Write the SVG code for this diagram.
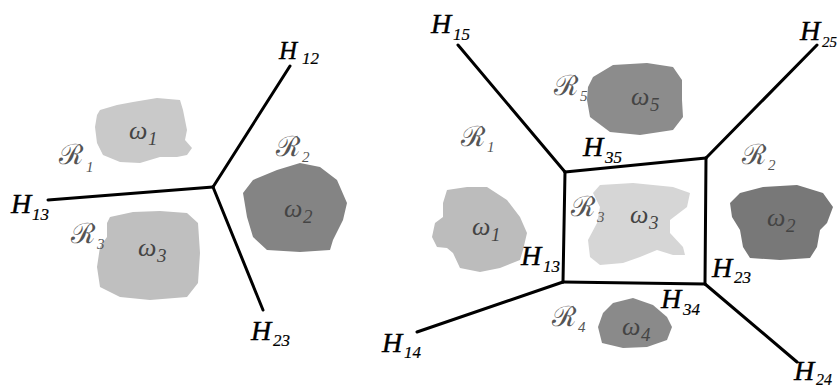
<svg xmlns="http://www.w3.org/2000/svg" width="839" height="387" viewBox="0 0 839 387">
<style>
.bg{fill:#ffffff}
.ln{stroke:#000;stroke-width:3;fill:none;stroke-linecap:round;stroke-linejoin:miter}
.H{font-family:"Liberation Serif","DejaVu Serif",serif;font-style:italic;font-size:28px;fill:#000;stroke:#000;stroke-width:0.4}
.Hs{font-size:17px;stroke-width:0.2}
.R{font-family:"DejaVu Serif","Liberation Serif",serif;font-size:28px;fill:#555}
.Rs{font-family:"Liberation Serif",serif;font-style:italic;font-size:15px}
.w{font-family:"Liberation Serif","DejaVu Serif",serif;font-style:italic;font-size:26px;fill:#444}
.ws{font-size:19px}
</style>
<rect class="bg" x="0" y="0" width="839" height="387"/>

<!-- Left diagram -->
<g id="blob-l-w1"><path fill="#c9c9c9" d="M100,110 L117,105 L133,102 L157,98 L180,100 L183,110 L187,130 L185,140 L192,148 L187,155 L177,157 L160,157 L140,163 L120,162 L103,155 L97,143 L95,127 L97,115 Z"/></g>
<g id="blob-l-w2"><path fill="#848484" d="M277,170 L300,163 L320,167 L337,180 L347,203 L343,220 L333,240 L330,250 L300,252 L267,250 L253,237 L247,217 L243,193 L253,180 Z"/></g>
<g id="blob-l-w3"><path fill="#bfbfbf" d="M110,217 L133,212 L160,211 L187,213 L198,223 L200,253 L198,283 L187,297 L150,300 L120,297 L100,287 L97,267 L100,247 L107,237 L107,223 Z"/></g>

<g id="connectors-left">
<path class="ln" d="M290,66 L213,187"/>
<path class="ln" d="M48,200 L213,187"/>
<path class="ln" d="M213,187 L263,310"/>
</g>

<g id="labels-left">
<text class="H" x="279" y="59" style="font-size:25px">H<tspan class="Hs" x="302" y="64">12</tspan></text>
<text class="H" x="11" y="213">H<tspan class="Hs" x="32" y="220">13</tspan></text>
<text class="H" x="251" y="340">H<tspan class="Hs" x="273" y="346">23</tspan></text>
<text class="R" x="59" y="164">ℛ<tspan class="Rs" x="86" y="172">1</tspan></text>
<text class="R" x="276" y="156">ℛ<tspan class="Rs" x="302" y="162">2</tspan></text>
<text class="R" x="71" y="243">ℛ<tspan class="Rs" x="97" y="249">3</tspan></text>
<text class="w" x="129" y="139">ω<tspan class="ws" x="148" y="145">1</tspan></text>
<text class="w" x="284" y="217">ω<tspan class="ws" x="303" y="223">2</tspan></text>
<text class="w" x="138" y="256">ω<tspan class="ws" x="157" y="262">3</tspan></text>
</g>

<!-- Right diagram -->
<g id="blob-r-w5"><path fill="#8c8c8c" d="M593,77 L613,65 L647,63 L673,67 L682,80 L682,100 L683,117 L673,130 L640,135 L610,132 L590,117 L587,100 L588,87 Z"/></g>
<g id="blob-r-w1"><path fill="#bcbcbc" d="M447,190 L467,187 L487,187 L507,200 L520,217 L527,233 L523,250 L520,260 L500,268 L480,272 L460,268 L453,253 L447,248 L437,247 L432,237 L435,223 L443,217 L443,203 Z"/></g>
<g id="blob-r-w3"><path fill="#d6d6d6" d="M600,185 L633,183 L673,187 L690,193 L687,207 L670,220 L670,233 L683,247 L685,255 L673,255 L657,250 L640,257 L623,263 L600,265 L590,257 L588,240 L597,223 L600,207 L593,193 Z"/></g>
<g id="blob-r-w2"><path fill="#787878" d="M740,193 L763,187 L797,185 L823,193 L833,207 L827,223 L820,230 L817,247 L810,258 L780,260 L750,258 L743,247 L740,230 L732,217 L730,203 Z"/></g>
<g id="blob-r-w4"><path fill="#8a8a8a" d="M613,303 L633,298 L653,305 L667,317 L672,327 L667,340 L647,347 L623,348 L602,343 L598,327 L603,313 Z"/></g>

<g id="connectors-right">
<path class="ln" d="M458,45 L565,172"/>
<path class="ln" d="M565,172 L706,158"/>
<path class="ln" d="M706,158 L817,45"/>
<path class="ln" d="M565,172 L563,282"/>
<path class="ln" d="M706,158 L705,284"/>
<path class="ln" d="M563,282 L705,284"/>
<path class="ln" d="M563,282 L417,332"/>
<path class="ln" d="M705,284 L797,362"/>
</g>

<g id="labels-right">
<text class="H" x="431" y="33">H<tspan class="Hs" x="453" y="40">15</tspan></text>
<text class="H" x="800" y="40">H<tspan class="Hs" x="822" y="47" style="font-size:15px">25</tspan></text>
<text class="H" x="583" y="156">H<tspan class="Hs" x="605" y="163">35</tspan></text>
<text class="H" x="521" y="265">H<tspan class="Hs" x="543" y="272">13</tspan></text>
<text class="H" x="712" y="277">H<tspan class="Hs" x="734" y="283">23</tspan></text>
<text class="H" x="661" y="308">H<tspan class="Hs" x="683" y="315">34</tspan></text>
<text class="H" x="382" y="352">H<tspan class="Hs" x="404" y="358">14</tspan></text>
<text class="H" x="794" y="380">H<tspan class="Hs" x="816" y="385" style="font-size:16px">24</tspan></text>
<text class="R" x="554" y="95">ℛ<tspan class="Rs" x="580" y="101">5</tspan></text>
<text class="R" x="461" y="146">ℛ<tspan class="Rs" x="487" y="152">1</tspan></text>
<text class="R" x="742" y="164">ℛ<tspan class="Rs" x="768" y="170">2</tspan></text>
<text class="R" x="571" y="216">ℛ<tspan class="Rs" x="597" y="222">3</tspan></text>
<text class="R" x="552" y="326">ℛ<tspan class="Rs" x="578" y="332">4</tspan></text>
<text class="w" x="631" y="105">ω<tspan class="ws" x="650" y="111">5</tspan></text>
<text class="w" x="472" y="235">ω<tspan class="ws" x="491" y="241">1</tspan></text>
<text class="w" x="630" y="223">ω<tspan class="ws" x="649" y="229">3</tspan></text>
<text class="w" x="767" y="226">ω<tspan class="ws" x="786" y="232">2</tspan></text>
<text class="w" x="622" y="335">ω<tspan class="ws" x="641" y="341">4</tspan></text>
</g>
</svg>
